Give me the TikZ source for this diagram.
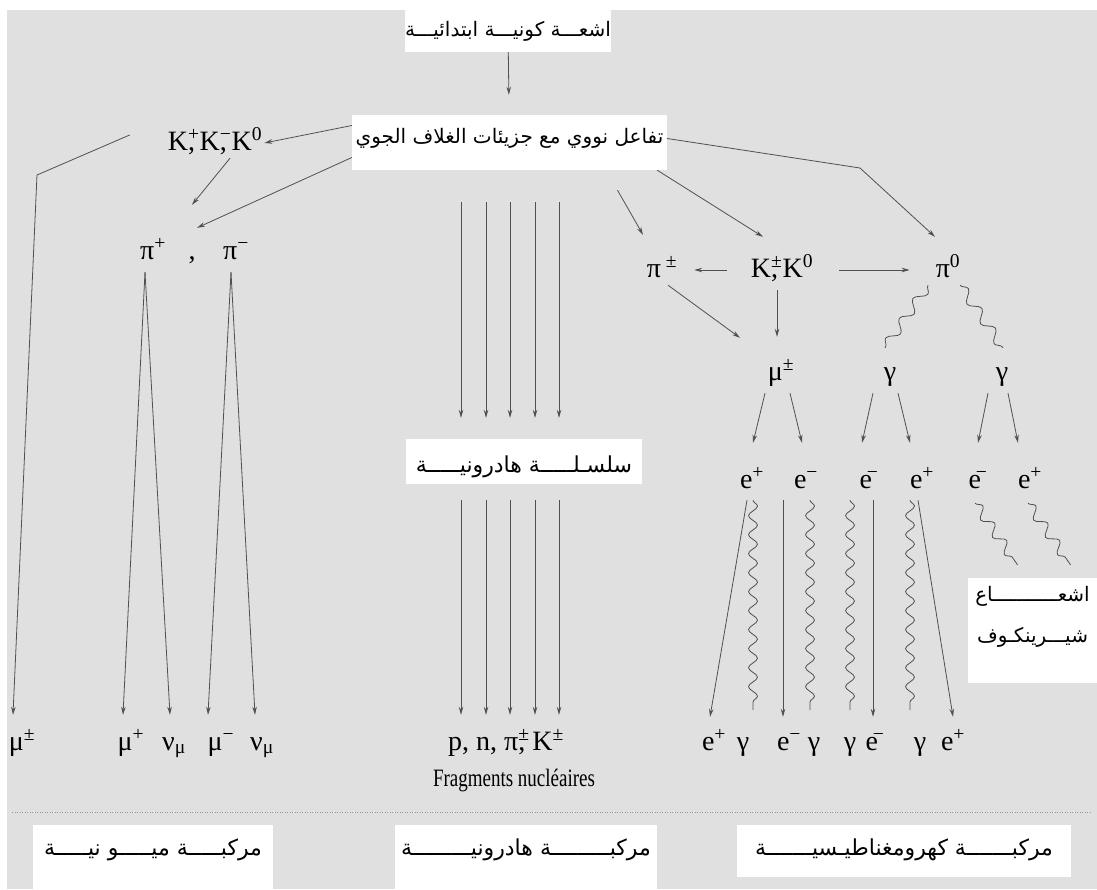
\documentclass[tikz,border=0pt]{standalone}
\usepackage{fontspec}
\usepackage{graphicx}
\setmainfont{Liberation Serif}
\newfontfamily\arabicfont[Script=Arabic]{DejaVu Sans}
\TeXXeTstate=1
\usetikzlibrary{arrows.meta,decorations.pathmorphing}
\definecolor{bggray}{HTML}{E0E0E0}
\definecolor{linegray}{HTML}{505050}
\newcommand{\artext}[1]{{\arabicfont\beginR #1\endR}}
\newcommand{\sups}[1]{\textsuperscript{#1}}
\newcommand{\ebar}{e\kern-5pt\textsuperscript{−}}
\begin{document}
\begin{tikzpicture}[x=1pt,y=-1pt,
    arrow/.style = {draw=linegray,line width=0.8pt,-{Stealth[length=8pt,width=4.5pt]}},
    wavy/.style = {draw=linegray,line width=0.8pt,decorate,decoration={snake,amplitude=4.5pt,segment length=19pt}},
    part/.style = {anchor=base,inner sep=2pt,text height=20pt,text depth=6pt,font=\fontsize{28}{32}\selectfont},
    wbox/.style = {anchor=base,fill=white,inner sep=0pt,font=\fontsize{20}{24}\selectfont},
    bigar/.style = {font=\fontsize{22}{26}\selectfont}]
    \useasboundingbox (0,0) rectangle (1097,889);
    \fill[white] (0,0) rectangle (1097,889);
    \fill[bggray] (7,10) rectangle (1097,889);

    % white boxes
    \node[wbox,minimum width=200pt,text height=26pt,text depth=16pt] (cosmic) at (508,36) {\artext{اشعـــة كونيـــة ابتدائيـــة}};
    \node[wbox,minimum width=315pt,text height=28pt,text depth=27pt] (nuc) at (509.5,143) {\artext{تفاعل نووي مع جزيئات الغلاف الجوي}};
    \node[wbox,bigar,minimum width=236pt,text height=33pt,text depth=12pt] (hchain) at (524,472) {\artext{سلسـلـــــة هادرونيـــــة}};
    \node[wbox,anchor=center,minimum width=129pt,minimum height=105pt] (cher) at (1032.5,630.5) {};
    \node[font=\fontsize{20}{41}\selectfont,align=center,anchor=north,inner sep=0pt] (chtxt) at ([yshift=-8pt]cher.north) {\artext{اشعـــــــــــاع}\\\artext{شيـــرينكـوف}};
    \node[wbox,bigar,minimum width=240pt,text height=30pt,text depth=34pt] (mbox) at (153,855) {\artext{مركبـــــة ميـــــو نيـــــة}};
    \node[wbox,bigar,minimum width=262pt,text height=30pt,text depth=34pt] (hbox) at (526,855) {\artext{مركبـــــــــة هادرونيـــــــــة}};
    \node[wbox,bigar,minimum width=334pt,text height=30pt,text depth=22pt] (ebox) at (904,855) {\artext{مركبـــــــة كهرومغناطيـسيـــــــة}};
    \draw[linegray!60,line width=1pt,dash pattern=on 1pt off 1.5pt] (12,812) -- (1090,812);

    % muon branch
    \node[part] (kaons) at (215,150) {K\rlap{\sups{+}},\,K\rlap{\sups{−}},\,K\sups{0}};
    \node[part] (pip) at (153,259) {π\sups{+}};
    \node[part] (pcomma) at (192,259) {,};
    \node[part] (pim) at (236,259) {π\sups{−}};
    \node[part] (muL) at (22,750) {μ\sups{±}};
    \node[part] (mup) at (131,750) {μ\sups{+}};
    \node[part] (nu1) at (174,750) {ν\textsubscript{μ}};
    \node[part] (mum) at (221,750) {μ\sups{−}};
    \node[part] (nu2) at (262,750) {ν\textsubscript{μ}};
    \coordinate (kbend) at (37,175);

    \draw[arrow,shorten >=20pt] (cosmic) -- (nuc);
    \draw[arrow] ([yshift=17pt]nuc.west) -- (kaons.east);
    \draw[arrow] ([yshift=-15pt]nuc.west) -- ([xshift=5pt,yshift=9pt]pcomma.north);
    \draw[arrow] ([xshift=15pt]kaons.south) -- ([yshift=32pt]pcomma.north);
    \draw[arrow] ([xshift=-36pt,yshift=8pt]kaons.west) -- (kbend) -- ([xshift=-9pt,yshift=13pt]muL.north);
    \draw[arrow] ([xshift=-8pt,yshift=-5pt]pip.south) -- ([xshift=-8pt,yshift=13pt]mup.north);
    \draw[arrow] ([xshift=-8pt,yshift=-5pt]pip.south) -- ([xshift=-4pt,yshift=13pt]nu1.north);
    \draw[arrow] ([xshift=-5pt,yshift=-5pt]pim.south) -- ([xshift=-13pt,yshift=13pt]mum.north);
    \draw[arrow] ([xshift=-5pt,yshift=-5pt]pim.south) -- ([xshift=-7pt,yshift=13pt]nu2.north);

    % hadron branch
    \node[part] (frag) at (506,750) {p, n, π\rlap{\sups{±}}, K\sups{±}};
    \node[anchor=base,inner sep=0pt,font=\fontsize{25}{28}\selectfont] (fragname) at (514,786) {\scalebox{0.76}[1]{Fragments nucléaires}};
    \foreach \a/\b/\c in {-48.5/-63/-45, -23.5/-38/-20, 0.5/-14/4, 25.5/11/29, 49.5/35/53} {
        \draw[arrow] ([xshift=\a pt,yshift=-32pt]nuc.south) -- ([xshift=\b pt,yshift=21pt]hchain.north);
        \draw[arrow] ([xshift=\b pt,yshift=-16pt]hchain.south) -- ([xshift=\c pt,yshift=13pt]frag.north);
    }

    % electromagnetic branch
    \node[part] (pipm) at (662,277) {π\,\sups{±}};
    \node[part] (kz) at (782,277) {K\rlap{\sups{±}},\,K\sups{0}};
    \node[part] (pi0) at (948,277) {π\sups{0}};
    \node[part] (mu) at (781,380) {μ\sups{±}};
    \node[part] (g1) at (890,380) {γ};
    \node[part] (g2) at (1002,380) {γ};
    \node[part] (e1) at (752,488) {e\sups{+}};
    \node[part] (e2) at (806,488) {e\sups{−}};
    \node[part] (e3) at (869,488) {\ebar};
    \node[part] (e4) at (922,488) {e\sups{+}};
    \node[part] (e5) at (978,488) {\ebar};
    \node[part] (e6) at (1030,488) {e\sups{+}};
    \node[part] (b1) at (714,750) {e\sups{+}};
    \node[part] (b2) at (743,750) {γ};
    \node[part] (b3) at (789,750) {e\sups{−}};
    \node[part] (b4) at (814,750) {γ};
    \node[part] (b5) at (850,750) {γ};
    \node[part] (b6) at (875,750) {\ebar};
    \node[part] (b7) at (920,750) {γ};
    \node[part] (b8) at (953,750) {e\sups{+}};
    \coordinate (pbend) at (860,168);

    \draw[arrow] ([xshift=108pt,yshift=-20pt]nuc.south) -- ([xshift=-19pt,yshift=20pt]pipm.north);
    \draw[arrow] ([xshift=-10pt]nuc.south east) -- ([xshift=-19pt,yshift=18pt]kz.north);
    \draw[arrow] ([yshift=4pt]nuc.east) -- (pbend) -- ([xshift=-13pt,yshift=18pt]pi0.north);
    \draw[arrow,shorten <=22pt,shorten >=15pt] (kz.west) -- (pipm.east);
    \draw[arrow,shorten <=24pt,shorten >=24pt] (kz.east) -- (pi0.west);
    \draw[arrow] ([xshift=6pt]pipm.south) -- ([xshift=-41pt,yshift=20pt]mu.north);
    \draw[arrow] ([xshift=-5pt,yshift=-5pt]kz.south) -- ([xshift=-4pt,yshift=21pt]mu.north);
    \draw[wavy,decoration={segment length=24pt,amplitude=5pt}] ([xshift=-20pt]pi0.south) -- ([xshift=-5pt,yshift=10pt]g1.north);
    \draw[wavy,decoration={segment length=24pt,amplitude=5pt}] ([xshift=12pt]pi0.south) -- ([xshift=1pt,yshift=10pt]g2.north);

    \draw[arrow] ([xshift=-16pt,yshift=-5pt]mu.south) -- ([xshift=1pt,yshift=23pt]e1.north);
    \draw[arrow] ([xshift=9pt,yshift=-5pt]mu.south) -- ([xshift=-4pt,yshift=23pt]e2.north);
    \draw[arrow] ([xshift=-17pt,yshift=-5pt]g1.south) -- ([xshift=-7pt,yshift=23pt]e3.north);
    \draw[arrow] ([xshift=8pt,yshift=-5pt]g1.south) -- ([xshift=-12pt,yshift=23pt]e4.north);
    \draw[arrow] ([xshift=-14pt,yshift=-5pt]g2.south) -- ([yshift=23pt]e5.north);
    \draw[arrow] ([xshift=6pt,yshift=-5pt]g2.south) -- ([xshift=-12pt,yshift=23pt]e6.north);

    \draw[arrow] ([xshift=-5pt,yshift=-4pt]e1.south) -- ([xshift=-4pt,yshift=11pt]b1.north);
    \draw[wavy] ([xshift=1pt,yshift=-4pt]e1.south) -- ([xshift=10pt,yshift=18pt]b2.north);
    \draw[arrow] ([xshift=-23pt,yshift=-4pt]e2.south) -- ([xshift=-6pt,yshift=11pt]b3.north);
    \draw[wavy] ([xshift=4pt,yshift=-4pt]e2.south) -- ([xshift=-4pt,yshift=18pt]b4.north);
    \draw[wavy] ([xshift=-19pt,yshift=-4pt]e3.south) -- ([yshift=18pt]b5.north);
    \draw[arrow] ([xshift=4pt,yshift=-4pt]e3.south) -- ([xshift=-2pt,yshift=11pt]b6.north);
    \draw[wavy] ([xshift=-12pt,yshift=-4pt]e4.south) -- ([xshift=-10pt,yshift=18pt]b7.north);
    \draw[arrow] ([xshift=-4pt,yshift=-4pt]e4.south) -- ([yshift=11pt]b8.north);
    \draw[wavy,decoration={segment length=21pt,amplitude=5pt}] ([xshift=-3pt,yshift=-7pt]e5.south) -- ([xshift=-15pt,yshift=13pt]cher.north);
    \draw[wavy,decoration={segment length=21pt,amplitude=5pt}] ([xshift=-2pt,yshift=-7pt]e6.south) -- ([xshift=38pt,yshift=13pt]cher.north);
\end{tikzpicture}
\end{document}
